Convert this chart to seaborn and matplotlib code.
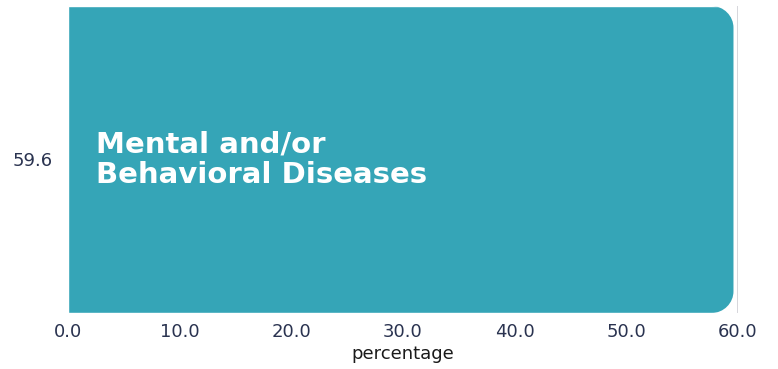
import numpy as np
import pandas as pd
import matplotlib
matplotlib.use("Agg")
import matplotlib.pyplot as plt
import seaborn as sns
from matplotlib.path import Path
from matplotlib.patches import PathPatch
from matplotlib.transforms import IdentityTransform

values = [59.6]
labels = ["Mental and/or\nBehavioral Diseases"]
ylabels = ["59.6"]
xticks = [0, 10, 20, 30, 40, 50, 60]

sns.set_style("white")
plt.rcParams['font.family'] = ['DejaVu Sans']

df = pd.DataFrame({"cat": ylabels, "value": values})

fig = plt.figure(figsize=(7.78, 3.69), dpi=100)
ax = fig.add_axes([68 / 778, 1 - 313 / 369, 670 / 778, 307 / 369])
sns.barplot(data=df, x="value", y="cat", orient="h", color="#35a5b7",
            saturation=1, width=1.0, ax=ax)
ax.set_xlim(0, 60)
ax.set_ylim(0.5, -0.5)
ax.axvline(60, color="#cfd0d6", lw=1.2, zorder=0)
sns.despine(ax=ax, left=True, bottom=True)

txt = "#2a3350"
ax.set_xticks(xticks)
ax.set_xticklabels([f"{t:.1f}" for t in xticks], fontsize=13, color=txt)
ax.tick_params(axis="x", length=0, pad=7)
ax.tick_params(axis="y", length=0, pad=11)
for t in ax.get_yticklabels():
    t.set_fontsize(13)
    t.set_color(txt)
ax.set_xlabel("percentage", fontsize=13, color="#1a1a1a", labelpad=3)
ax.set_ylabel("")

for i, lab in enumerate(labels):
    ax.text(2.5, i, lab, color="white", fontsize=21, fontweight="bold",
            va="center", ha="left", linespacing=1.1)

# round the right end of the bar (radius in pixels)
fig.canvas.draw()
r = 22
for p in ax.patches:
    bb = p.get_window_extent()
    x0, y0, x1, y1 = bb.x0, bb.y0, bb.x1, bb.y1
    k = 0.5523 * r
    verts = [(x0, y0), (x1 - r, y0),
             (x1 - r + k, y0), (x1, y0 + r - k), (x1, y0 + r),
             (x1, y1 - r),
             (x1, y1 - r + k), (x1 - r + k, y1), (x1 - r, y1),
             (x0, y1), (x0, y0)]
    codes = [Path.MOVETO, Path.LINETO,
             Path.CURVE4, Path.CURVE4, Path.CURVE4,
             Path.LINETO,
             Path.CURVE4, Path.CURVE4, Path.CURVE4,
             Path.LINETO, Path.CLOSEPOLY]
    clip = PathPatch(Path(verts, codes), transform=IdentityTransform())
    p.set_clip_path(clip)

fig.savefig("out.png", dpi=100)
